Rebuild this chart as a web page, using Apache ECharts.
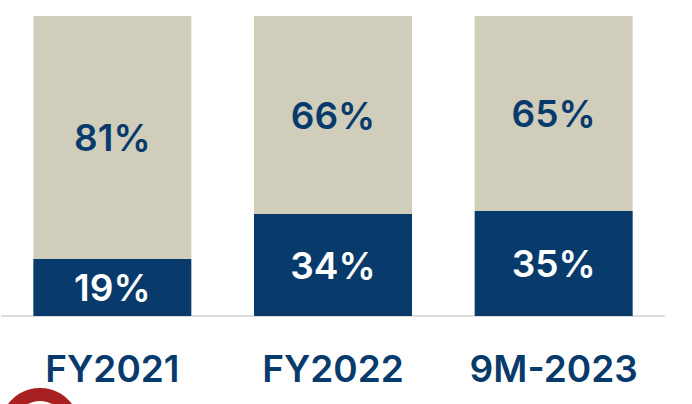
<!DOCTYPE html>
<html>
<head>
<meta charset="utf-8">
<script src="https://cdn.jsdelivr.net/npm/echarts@6/dist/echarts.min.js"></script>
<style>
  html, body { margin: 0; padding: 0; background: #fff; }
  #chart { width: 692px; height: 404px; }
</style>
</head>
<body>
<div id="chart"></div>
<script>
var categories = ['FY2021', 'FY2022', '9M-2023'];
var lowerShare = [19, 34, 35];
var upperShare = [81, 66, 65];

var navy = '#083a6b';
var sand = '#d0cdbb';
var font = 'Inter, "Open Sans", sans-serif';

var chart = echarts.init(document.getElementById('chart'), null, { renderer: 'svg' });
chart.setOption({
  animation: false,
  grid: { left: 2, right: 28, top: 16, bottom: 88 },
  xAxis: {
    type: 'category',
    data: categories,
    axisTick: { show: false },
    axisLine: { lineStyle: { color: '#dcdcdc', width: 2 } },
    axisLabel: {
      color: navy, fontSize: 37, fontWeight: 600, fontFamily: font, margin: 34
    }
  },
  yAxis: {
    type: 'value', min: 0, max: 100, show: false
  },
  series: [{
    type: 'bar',
    stack: 'total',
    barWidth: 158,
    data: lowerShare,
    itemStyle: { color: navy },
    label: {
      show: true, position: 'inside', formatter: '{c}%',
      color: '#fff', fontSize: 37, fontWeight: 600, fontFamily: font
    }
  }, {
    type: 'bar',
    stack: 'total',
    barWidth: 158,
    data: upperShare,
    itemStyle: { color: sand },
    label: {
      show: true, position: 'inside', formatter: '{c}%',
      color: navy, fontSize: 37, fontWeight: 600, fontFamily: font
    }
  }],
  graphic: [{
    type: 'ring',
    shape: { cx: 40, cy: 428, r: 40, r0: 27 },
    style: { fill: '#a8201f' }
  }]
});
window.addEventListener('resize', function() { chart.resize(); });
</script>
</body>
</html>
